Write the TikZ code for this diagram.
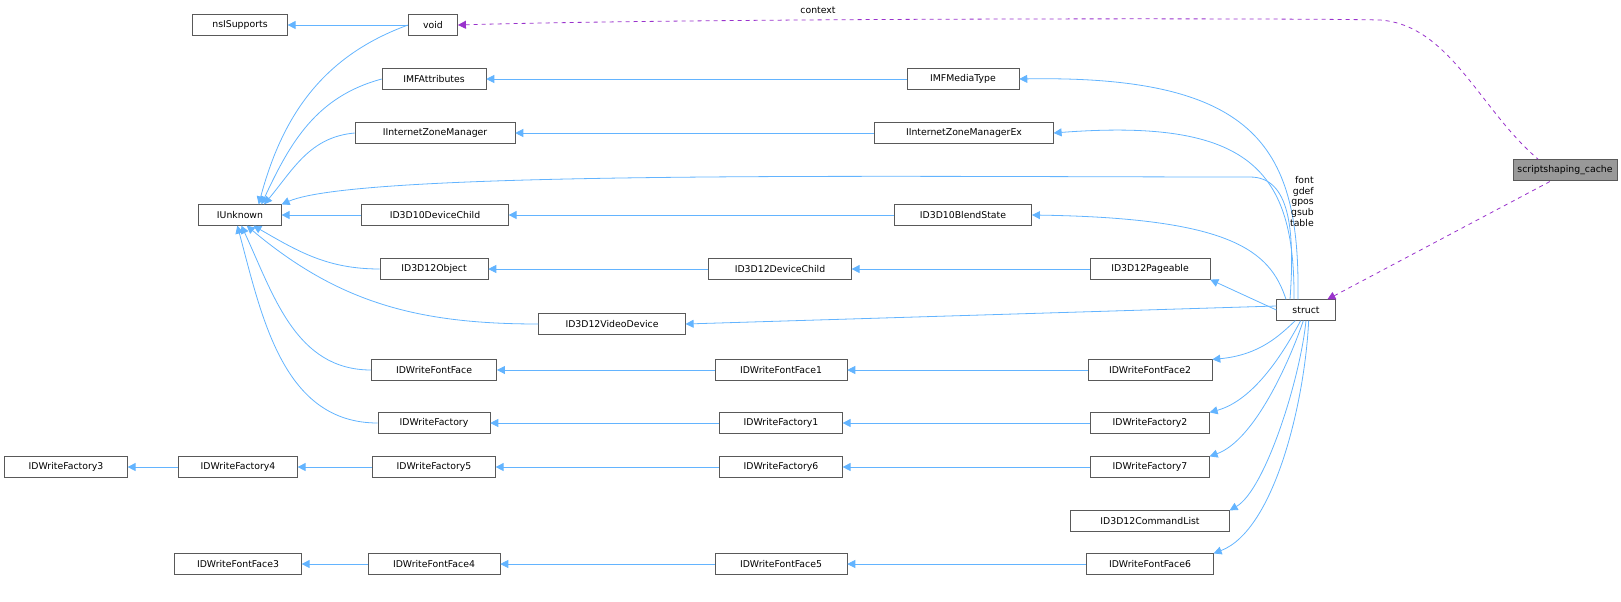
\documentclass[tikz,border=0pt]{standalone}
\usepackage{fontspec}
\setmainfont{DejaVu Sans}
\usetikzlibrary{arrows.meta}
\begin{document}
\begin{tikzpicture}[x=0.75pt,y=-0.75pt,
 box/.style={draw=black!65,fill=white,minimum height=15.5pt,inner xsep=2pt,font=\fontsize{7}{8}\selectfont,text=black},
 e/.style={draw={rgb,255:red,99;green,180;blue,255},line width=0.6pt,{Triangle[length=6pt,width=6pt]}-},
 d/.style={draw={rgb,255:red,153;green,50;blue,204},dashed,line width=0.6pt,{Triangle[length=6pt,width=6pt]}-},
 lab/.style={font=\fontsize{7}{8}\selectfont,text=black}]
\node[box,minimum width=71pt] (ns) at (240,25) {nsISupports};
\node[box,minimum width=37pt] (void) at (433,25) {void};
\node[box,minimum width=78pt] (imfa) at (434,79) {IMFAttributes};
\node[box,minimum width=84pt] (imfm) at (963,79) {IMFMediaType};
\node[box,minimum width=120pt] (izm) at (435,133) {IInternetZoneManager};
\node[box,minimum width=134pt] (izmx) at (964,133) {IInternetZoneManagerEx};
\node[box,minimum width=62pt] (iu) at (240,215) {IUnknown};
\node[box,minimum width=110pt] (d10dc) at (435,215) {ID3D10DeviceChild};
\node[box,minimum width=103pt] (d10bs) at (963,215) {ID3D10BlendState};
\node[box,minimum width=81pt] (d12o) at (434,269) {ID3D12Object};
\node[box,minimum width=107pt] (d12dc) at (780,269) {ID3D12DeviceChild};
\node[box,minimum width=90pt] (d12p) at (1150,269) {ID3D12Pageable};
\node[box,minimum width=110pt] (d12vd) at (612,324) {ID3D12VideoDevice};
\node[box,minimum width=44pt] (st) at (1306,310) {struct};
\node[box,minimum width=78pt,fill=black!40] (sc) at (1565,170) {scriptshaping\_cache};
\node[box,minimum width=94pt] (ff) at (434,370) {IDWriteFontFace};
\node[box,minimum width=99pt] (ff1) at (781,370) {IDWriteFontFace1};
\node[box,minimum width=93pt] (ff2) at (1150,370) {IDWriteFontFace2};
\node[box,minimum width=84pt] (fa) at (434,423) {IDWriteFactory};
\node[box,minimum width=92pt] (fa1) at (781,423) {IDWriteFactory1};
\node[box,minimum width=89pt] (fa2) at (1150,423) {IDWriteFactory2};
\node[box,minimum width=92pt] (fa3) at (66,467) {IDWriteFactory3};
\node[box,minimum width=89pt] (fa4) at (238,467) {IDWriteFactory4};
\node[box,minimum width=92pt] (fa5) at (434,467) {IDWriteFactory5};
\node[box,minimum width=92pt] (fa6) at (781,467) {IDWriteFactory6};
\node[box,minimum width=89pt] (fa7) at (1150,467) {IDWriteFactory7};
\node[box,minimum width=119pt] (cl) at (1150,521) {ID3D12CommandList};
\node[box,minimum width=95pt] (ff3) at (238,564) {IDWriteFontFace3};
\node[box,minimum width=99pt] (ff4) at (434,564) {IDWriteFontFace4};
\node[box,minimum width=99pt] (ff5) at (781,564) {IDWriteFontFace5};
\node[box,minimum width=95pt] (ff6) at (1150,564) {IDWriteFontFace6};
% straight inheritance edges
\draw[e] (ns) -- (void);
\draw[e] (imfa) -- (imfm);
\draw[e] (izm) -- (izmx);
\draw[e] (iu) -- (d10dc);
\draw[e] (d10dc) -- (d10bs);
\draw[e] (d12o) -- (d12dc);
\draw[e] (d12dc) -- (d12p);
\draw[e] (ff) -- (ff1);
\draw[e] (ff1) -- (ff2);
\draw[e] (fa) -- (fa1);
\draw[e] (fa1) -- (fa2);
\draw[e] (fa3) -- (fa4);
\draw[e] (fa4) -- (fa5);
\draw[e] (fa5) -- (fa6);
\draw[e] (fa6) -- (fa7);
\draw[e] (ff3) -- (ff4);
\draw[e] (ff4) -- (ff5);
\draw[e] (ff5) -- (ff6);
% IUnknown fan
\draw[e] ([xshift=14pt]iu.north) to[out=75,in=200] (void.west);
\draw[e] ([xshift=16pt]iu.north) to[out=65,in=195] (imfa.west);
\draw[e] ([xshift=18pt]iu.north) to[out=50,in=185] (izm.west);
\draw[e] (iu.north east) .. controls (360,170) and (900,177) .. (1250,177) .. controls (1290,177) and (1295,230) .. ([xshift=-12pt]st.north);
\draw[e] ([xshift=10pt]iu.south) to[out=-30,in=180] (d12o.west);
\draw[e] ([xshift=5pt]iu.south) to[out=-40,in=180] (d12vd.west);
\draw[e] ([xshift=1pt]iu.south) to[out=-65,in=180] (ff.west);
\draw[e] ([xshift=-2pt]iu.south) to[out=-75,in=180] (fa.west);
% struct fan
\draw[e] (imfm.east) .. controls (1260,75) and (1300,150) .. ([xshift=-6pt]st.north);
\draw[e] (izmx.east) .. controls (1250,118) and (1295,170) .. ([xshift=-9pt]st.north);
\draw[e] (d10bs.east) .. controls (1230,218) and (1270,250) .. ([xshift=-15pt]st.north);
\draw[e] (d12p.south east) -- (st.west);
\draw[e] (d12vd.east) -- ([yshift=3pt]st.west);
\draw[e] (ff2.north east) .. controls (1260,355) and (1280,335) .. ([xshift=-8pt]st.south);
\draw[e] (fa2.north east) .. controls (1255,400) and (1285,350) .. ([xshift=-4pt]st.south);
\draw[e] (fa7.north east) .. controls (1255,440) and (1290,360) .. ([xshift=-2pt]st.south);
\draw[e] (cl.north east) .. controls (1265,490) and (1300,380) .. (st.south);
\draw[e] (ff6.north east) .. controls (1275,530) and (1305,400) .. ([xshift=2pt]st.south);
% dashed
\draw[d] (void.east) .. controls (700,18) and (1300,18) .. (1380,20) .. controls (1450,25) and (1480,110) .. ([xshift=-20pt]sc.north);
\node[lab] at (818,10) {context};
\draw[d] ([xshift=16pt]st.north) -- ([xshift=-10pt]sc.south);
\node[lab,align=right,anchor=north east,inner sep=0pt] (fl) at (1314,176) {font\\gdef\\gpos\\gsub\\table};
\pgfresetboundingbox
\useasboundingbox (0,0) rectangle (1621,601);
\end{tikzpicture}
\end{document}
